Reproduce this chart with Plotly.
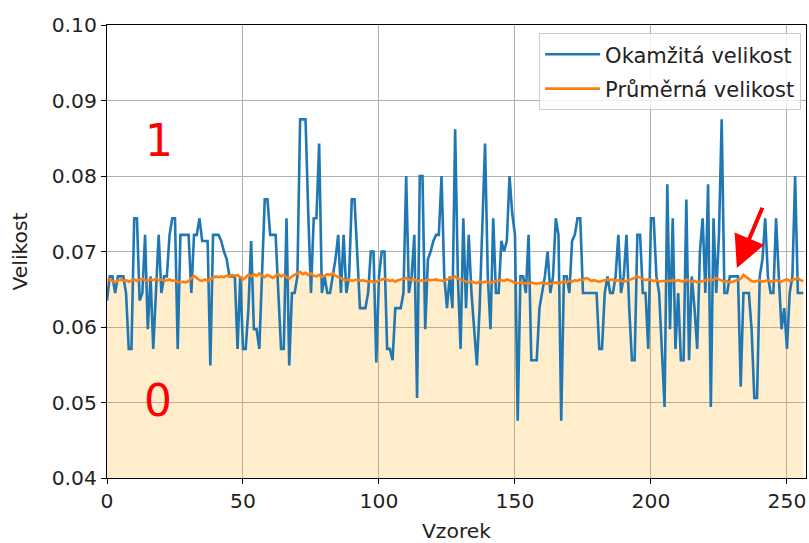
import plotly.graph_objects as go

# Instantaneous size per sample (Okamžitá velikost)
okamzita = [
    0.0635, 0.0667, 0.0667, 0.0645, 0.0667, 0.0667, 0.0667, 0.0645, 0.0571, 0.0571,
    0.0744, 0.0744, 0.0635, 0.0645, 0.0722, 0.0597, 0.0667, 0.0571, 0.0645, 0.0722,
    0.0645, 0.0667, 0.0667, 0.0722, 0.0744, 0.0744, 0.0571, 0.0722, 0.0722, 0.0722,
    0.0722, 0.0645, 0.0722, 0.0722, 0.0744, 0.0714, 0.0714, 0.0714, 0.0549, 0.0722,
    0.0722, 0.0722, 0.0714, 0.0700, 0.0690, 0.0667, 0.0667, 0.0667, 0.0571, 0.0667,
    0.0571, 0.0571, 0.0625, 0.0714, 0.0597, 0.0597, 0.0571, 0.0667, 0.0769, 0.0769,
    0.0722, 0.0722, 0.0722, 0.0645, 0.0571, 0.0571, 0.0744, 0.0549, 0.0645, 0.0645,
    0.0667, 0.0875, 0.0875, 0.0875, 0.0750, 0.0645, 0.0744, 0.0744, 0.0843, 0.0645,
    0.0667, 0.0645, 0.0645, 0.0667, 0.0690, 0.0722, 0.0645, 0.0722, 0.0645, 0.0667,
    0.0769, 0.0769, 0.0700, 0.0625, 0.0625, 0.0625, 0.0645, 0.0700, 0.0700, 0.0553,
    0.0667, 0.0700, 0.0700, 0.0571, 0.0571, 0.0556, 0.0625, 0.0625, 0.0625, 0.0645,
    0.0800, 0.0645, 0.0667, 0.0722, 0.0506, 0.0800, 0.0800, 0.0597, 0.0690, 0.0700,
    0.0714, 0.0722, 0.0722, 0.0800, 0.0667, 0.0625, 0.0667, 0.0625, 0.0862, 0.0667,
    0.0571, 0.0744, 0.0625, 0.0722, 0.0645, 0.0597, 0.0549, 0.0625, 0.0722, 0.0843,
    0.0667, 0.0597, 0.0744, 0.0645, 0.0645, 0.0714, 0.0700, 0.0714, 0.0800, 0.0750,
    0.0722, 0.0476, 0.0667, 0.0667, 0.0645, 0.0722, 0.0556, 0.0556, 0.0556, 0.0625,
    0.0645, 0.0667, 0.0700, 0.0645, 0.0667, 0.0744, 0.0722, 0.0476, 0.0667, 0.0667,
    0.0645, 0.0714, 0.0722, 0.0744, 0.0744, 0.0645, 0.0645, 0.0645, 0.0645, 0.0645,
    0.0645, 0.0571, 0.0571, 0.0645, 0.0667, 0.0645, 0.0645, 0.0667, 0.0722, 0.0645,
    0.0667, 0.0722, 0.0625, 0.0556, 0.0556, 0.0722, 0.0722, 0.0645, 0.0645, 0.0571,
    0.0744, 0.0744, 0.0667, 0.0645, 0.0571, 0.0494, 0.0789, 0.0597, 0.0744, 0.0571,
    0.0645, 0.0556, 0.0556, 0.0769, 0.0556, 0.0667, 0.0625, 0.0571, 0.0700, 0.0744,
    0.0645, 0.0789, 0.0494, 0.0744, 0.0645, 0.0722, 0.0875, 0.0645, 0.0645, 0.0667,
    0.0667, 0.0667, 0.0667, 0.0521, 0.0645, 0.0645, 0.0645, 0.0597, 0.0506, 0.0506,
    0.0667, 0.0690, 0.0744, 0.0667, 0.0645, 0.0645, 0.0744, 0.0667, 0.0597, 0.0625,
    0.0571, 0.0645, 0.0667, 0.0800, 0.0645, 0.0645, 0.0645,
]

# Average size per sample (Průměrná velikost)
prumerna = [
    0.0662, 0.0663, 0.0661, 0.0659, 0.0662, 0.0663, 0.0661, 0.0662, 0.0660, 0.0662,
    0.0663, 0.0661, 0.0662, 0.0664, 0.0662, 0.0661, 0.0663, 0.0662, 0.0664, 0.0662,
    0.0663, 0.0661, 0.0662, 0.0663, 0.0661, 0.0662, 0.0660, 0.0659, 0.0660, 0.0659,
    0.0661, 0.0664, 0.0668, 0.0665, 0.0662, 0.0661, 0.0663, 0.0661, 0.0663, 0.0665,
    0.0667, 0.0666, 0.0667, 0.0666, 0.0668, 0.0667, 0.0669, 0.0668, 0.0669, 0.0666,
    0.0663, 0.0666, 0.0669, 0.0667, 0.0670, 0.0668, 0.0671, 0.0668, 0.0666, 0.0669,
    0.0667, 0.0665, 0.0668, 0.0670, 0.0667, 0.0669, 0.0666, 0.0664, 0.0667, 0.0669,
    0.0671, 0.0673, 0.0670, 0.0672, 0.0669, 0.0671, 0.0668, 0.0667, 0.0669, 0.0666,
    0.0668, 0.0670, 0.0669, 0.0671, 0.0668, 0.0666, 0.0664, 0.0663, 0.0662, 0.0663,
    0.0661, 0.0662, 0.0663, 0.0661, 0.0662, 0.0661, 0.0660, 0.0661, 0.0659, 0.0660,
    0.0662, 0.0663, 0.0664, 0.0662, 0.0661, 0.0662, 0.0660, 0.0662, 0.0663, 0.0664,
    0.0665, 0.0663, 0.0662, 0.0663, 0.0661, 0.0661, 0.0662, 0.0661, 0.0663, 0.0662,
    0.0663, 0.0663, 0.0662, 0.0661, 0.0661, 0.0663, 0.0664, 0.0665, 0.0667, 0.0664,
    0.0663, 0.0662, 0.0660, 0.0659, 0.0660, 0.0659, 0.0658, 0.0660, 0.0659, 0.0660,
    0.0659, 0.0658, 0.0660, 0.0661, 0.0661, 0.0662, 0.0661, 0.0663, 0.0662, 0.0660,
    0.0659, 0.0658, 0.0659, 0.0658, 0.0658, 0.0657, 0.0659, 0.0658, 0.0657, 0.0658,
    0.0659, 0.0657, 0.0658, 0.0657, 0.0658, 0.0659, 0.0658, 0.0659, 0.0660, 0.0659,
    0.0661, 0.0660, 0.0662, 0.0661, 0.0663, 0.0662, 0.0665, 0.0664, 0.0661, 0.0662,
    0.0661, 0.0660, 0.0661, 0.0662, 0.0663, 0.0662, 0.0663, 0.0661, 0.0662, 0.0661,
    0.0660, 0.0661, 0.0662, 0.0663, 0.0665, 0.0667, 0.0665, 0.0663, 0.0662, 0.0663,
    0.0662, 0.0661, 0.0662, 0.0660, 0.0661, 0.0661, 0.0660, 0.0661, 0.0662, 0.0661,
    0.0662, 0.0661, 0.0660, 0.0663, 0.0662, 0.0660, 0.0661, 0.0659, 0.0660, 0.0661,
    0.0662, 0.0663, 0.0661, 0.0663, 0.0665, 0.0663, 0.0661, 0.0660, 0.0661, 0.0659,
    0.0660, 0.0661, 0.0662, 0.0664, 0.0669, 0.0666, 0.0663, 0.0661, 0.0660, 0.0661,
    0.0662, 0.0660, 0.0661, 0.0662, 0.0660, 0.0661, 0.0662, 0.0661, 0.0660, 0.0662,
    0.0663, 0.0661, 0.0662, 0.0664, 0.0665, 0.0662, 0.0661,
]

vzorky = list(range(len(okamzita)))

FONT = "DejaVu Sans"
FS = 20.3
TXT = "#222"
BLUE = "#1f77b4"
ORANGE = "#ff7f0e"

fig = go.Figure()

# shaded region under the average line ("0" zone)
fig.add_trace(go.Scatter(
    x=vzorky, y=prumerna, mode="none", fill="tozeroy",
    fillcolor="rgba(255,165,0,0.2)", showlegend=False, hoverinfo="skip",
))
fig.add_trace(go.Scatter(
    x=vzorky, y=okamzita, mode="lines", name="Okamžitá velikost",
    legendgroup="a", line=dict(color=BLUE, width=2.6),
))
fig.add_trace(go.Scatter(
    x=vzorky, y=prumerna, mode="lines", name="Průměrná velikost",
    legendgroup="b", line=dict(color=ORANGE, width=2.6),
))

# zone labels
fig.add_annotation(x=19.3, y=0.0847, text="1", showarrow=False,
                   font=dict(family=FONT, size=44, color="red"))
fig.add_annotation(x=18.8, y=0.0503, text="0", showarrow=False,
                   font=dict(family=FONT, size=44, color="red"))

# arrow pointing at the average line
fig.add_annotation(x=231.6, y=0.0678, ax=241.2, ay=0.0760,
                   xref="x", yref="y", axref="x", ayref="y",
                   text="", showarrow=True, arrowhead=2, arrowsize=1.6,
                   arrowwidth=4, arrowcolor="red")

axis_common = dict(
    showline=True, linecolor="black", linewidth=1.2, mirror=True,
    showgrid=True, gridcolor="#b0b0b0", gridwidth=1.1,
    ticks="outside", ticklen=5, tickwidth=1.2, tickcolor="black",
    tickfont=dict(family=FONT, size=FS, color=TXT),
    zeroline=False,
)

fig.update_xaxes(
    range=[0, 257], tickvals=[0, 50, 100, 150, 200, 250],
    title=dict(text="Vzorek", font=dict(family=FONT, size=FS, color=TXT), standoff=13),
    **axis_common,
)
fig.update_yaxes(
    range=[0.04, 0.10], tickvals=[0.04, 0.05, 0.06, 0.07, 0.08, 0.09, 0.10],
    tickformat=".2f",
    title=dict(text="Velikost", font=dict(family=FONT, size=FS, color=TXT), standoff=18),
    **axis_common,
)

fig.update_layout(
    width=809, height=543,
    margin=dict(l=107, r=3, t=25, b=65),
    plot_bgcolor="white", paper_bgcolor="white",
    font=dict(family=FONT, size=FS, color=TXT),
    legend=dict(
        x=0.993, y=0.982, xanchor="right", yanchor="top",
        bgcolor="rgba(255,255,255,0.8)", bordercolor="#cccccc", borderwidth=1,
        font=dict(family=FONT, size=21, color=TXT),
        tracegroupgap=4, itemwidth=55,
    ),
)

fig.write_html("out.html")
